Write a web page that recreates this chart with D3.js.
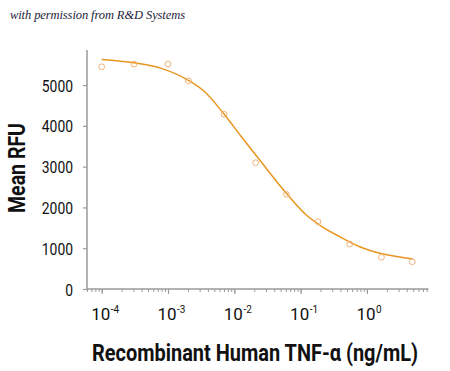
<!DOCTYPE html>
<html>
<head>
<meta charset="utf-8">
<script src="https://cdn.jsdelivr.net/npm/d3@7/dist/d3.min.js"></script>
<style>
  html, body { margin: 0; padding: 0; background: #fff; }
  svg { display: block; }
</style>
</head>
<body>
<div id="chart"></div>
<script>
// Measured concentrations (ng/mL) and Mean RFU readings
const concentrations = [1.0e-4, 3.07e-4, 1.0e-3, 2.03e-3, 7.0e-3, 2.1e-2, 6.1e-2, 0.183, 0.55, 1.66, 4.85];
const meanRFU = [5449, 5515, 5515, 5105, 4282, 3096, 2321, 1650, 1103, 777, 670];

// Fitted curve at sample concentrations
const fitConc = [1.0e-4, 3.07e-4, 7.94e-4, 2.0e-3, 3.58e-3, 7.0e-3, 1.28e-2, 2.42e-2, 6.1e-2, 0.122, 0.194, 0.389, 0.778, 1.56, 3.0, 4.9];
const fitRFU = [5630, 5547, 5409, 5123, 4836, 4289, 3733, 3162, 2346, 1814, 1569, 1282, 1037, 875, 790, 735];

// Tick values
const yTicks = [0, 1000, 2000, 3000, 4000, 5000];
const xTickExponents = [-4, -3, -2, -1, 0];

const titleText = "with permission from R&D Systems";
const yTitle = "Mean RFU";
const xTitle = "Recombinant Human TNF-\u03b1 (ng/mL)";

const FONT = "Roboto, 'Open Sans', 'DejaVu Sans', sans-serif";
const W = 450, H = 371;
const svg = d3.select("#chart").append("svg").attr("width", W).attr("height", H);

const x = d3.scaleLog().domain([6e-5, 8.5]).range([87, 428.5]);
const y = d3.scaleLinear().domain([0, 5860]).range([289, 50]);

const axisColor = "#9a9a9a";
const curveColor = "#E8961F";
const pointColor = "#EFB27A";

// Credit line
svg.append("text")
  .attr("x", 10).attr("y", 18.5)
  .attr("font-family", "Liberation Serif, DejaVu Serif, serif")
  .attr("font-style", "italic")
  .attr("font-size", 12.5)
  .attr("fill", "#1c1c3a")
  .attr("textLength", 175)
  .attr("lengthAdjust", "spacing")
  .text(titleText);

// Y axis
const yAxis = d3.axisLeft(y).tickValues(yTicks).tickSize(4).tickPadding(0).tickFormat(d3.format("d"));
const gy = svg.append("g").attr("transform", "translate(87,0)").call(yAxis);
gy.select(".domain").attr("stroke", axisColor).attr("stroke-width", 1.5).attr("d", `M0,${y(5860)}V${y(0)}`);
gy.selectAll(".tick line").attr("stroke", axisColor).attr("stroke-width", 1.2);
gy.selectAll(".tick text")
  .attr("x", -14)
  .attr("dy", "0.36em")
  .attr("font-family", FONT)
  .attr("font-size", 17)
  .attr("fill", "#111")
  .attr("textLength", function() { return this.textContent.length * 7.8; })
  .attr("lengthAdjust", "spacingAndGlyphs");

// X axis: minor ticks
const [d0, d1] = x.domain();
const minor = [];
for (let e = -5; e <= 1; e++) {
  for (let m = 1; m <= 9; m++) {
    const v = m * Math.pow(10, e);
    if (v >= d0 && v <= d1) minor.push(v);
  }
}
const gx = svg.append("g").attr("transform", "translate(0,289)")
  .call(d3.axisBottom(x).tickValues(minor).tickSize(3).tickFormat(""));
gx.select(".domain").attr("stroke", axisColor).attr("stroke-width", 1.5).attr("d", `M${x(d0)},0H${x(d1)}`);
gx.selectAll(".tick line").attr("stroke", axisColor).attr("stroke-width", 1);

// X axis: major ticks + labels
const majors = xTickExponents.map(e => Math.pow(10, e));
const gxM = svg.append("g").attr("transform", "translate(0,289)")
  .call(d3.axisBottom(x).tickValues(majors).tickSize(5).tickFormat(""));
gxM.select(".domain").remove();
gxM.selectAll(".tick line").attr("stroke", axisColor).attr("stroke-width", 1.2);

const labels = svg.append("g");
xTickExponents.forEach(e => {
  const px = x(Math.pow(10, e));
  const t = labels.append("text")
    .attr("x", px - 10.5).attr("y", 320)
    .attr("font-family", FONT).attr("font-size", 17).attr("fill", "#111");
  t.append("tspan").text("10");
  t.append("tspan").attr("dy", -7).attr("dx", 0.5).attr("font-size", 10).text(String(e));
});

// Axis titles
svg.append("text")
  .attr("transform", `translate(25,168) rotate(-90)`)
  .attr("text-anchor", "middle")
  .attr("font-family", FONT)
  .attr("font-weight", "bold")
  .attr("font-size", 23)
  .attr("fill", "#111")
  .attr("textLength", 90).attr("lengthAdjust", "spacingAndGlyphs")
  .text(yTitle);

svg.append("text")
  .attr("x", 255).attr("y", 361)
  .attr("text-anchor", "middle")
  .attr("font-family", FONT)
  .attr("font-weight", "bold")
  .attr("font-size", 23)
  .attr("fill", "#111")
  .attr("textLength", 326).attr("lengthAdjust", "spacingAndGlyphs")
  .text(xTitle);

// Fitted curve
const fit = fitConc.map((c, i) => [c, fitRFU[i]]);
svg.append("path")
  .datum(fit)
  .attr("fill", "none")
  .attr("stroke", curveColor)
  .attr("stroke-width", 1.5)
  .attr("d", d3.line().x(d => x(d[0])).y(d => y(d[1])).curve(d3.curveMonotoneX));

// Data points
svg.append("g").selectAll("circle")
  .data(concentrations.map((c, i) => [c, meanRFU[i]]))
  .join("circle")
  .attr("cx", d => x(d[0]))
  .attr("cy", d => y(d[1]))
  .attr("r", 2.9)
  .attr("fill", "none")
  .attr("stroke", pointColor)
  .attr("stroke-width", 1);
</script>
</body>
</html>
